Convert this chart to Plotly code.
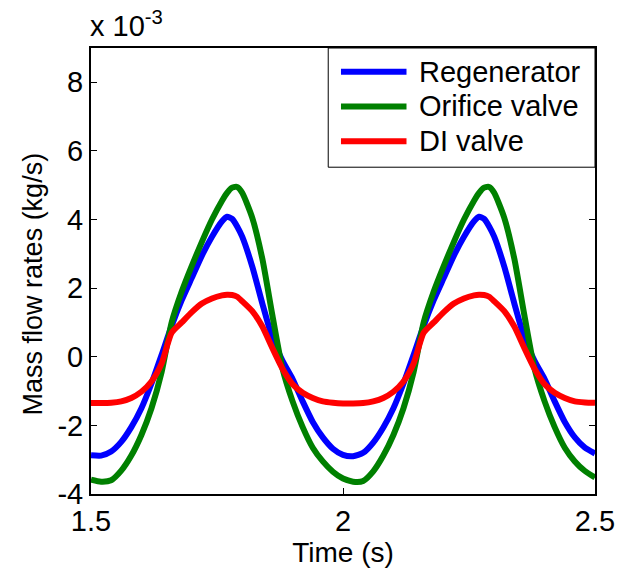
import plotly.graph_objects as go

# Time samples (s)
time_s = [1.50, 1.52, 1.54, 1.56, 1.58, 1.60, 1.62, 1.64, 1.66, 1.68, 1.70, 1.72, 1.74, 1.76, 1.77, 1.78, 1.79,
          1.80, 1.82, 1.84, 1.86, 1.88, 1.90, 1.92, 1.94, 1.96, 1.98,
          2.00, 2.02, 2.04, 2.06, 2.08, 2.10, 2.12, 2.14, 2.16, 2.18, 2.20, 2.22, 2.24, 2.26, 2.27, 2.28, 2.29,
          2.30, 2.32, 2.34, 2.36, 2.38, 2.40, 2.42, 2.44, 2.46, 2.48, 2.50]

# Mass flow rates, in units of 1e-3 kg/s
regenerator = [-2.87, -2.88, -2.76, -2.48, -2.05, -1.50, -0.78, 0.05, 0.90, 1.65, 2.30, 2.95, 3.50, 3.95, 4.08, 4.02, 3.80,
               3.50, 2.63, 1.55, 0.55, -0.12, -0.65, -1.30, -1.90, -2.35, -2.68,
               -2.86, -2.90, -2.80, -2.50, -2.06, -1.50, -0.78, 0.05, 0.90, 1.65, 2.30, 2.95, 3.50, 3.95, 4.08, 4.02, 3.80,
               3.50, 2.63, 1.55, 0.55, -0.12, -0.65, -1.30, -1.90, -2.35, -2.65, -2.82]
orifice_valve = [-3.58, -3.64, -3.60, -3.32, -2.88, -2.28, -1.50, -0.45, 1.00, 1.90, 2.65, 3.35, 4.00, 4.55, 4.78, 4.93, 4.95,
                 4.78, 4.05, 2.85, 1.20, -0.35, -1.30, -2.05, -2.65, -3.05, -3.35,
                 -3.55, -3.64, -3.62, -3.34, -2.88, -2.28, -1.50, -0.45, 1.00, 1.90, 2.65, 3.35, 4.00, 4.55, 4.78, 4.93, 4.95,
                 4.78, 4.05, 2.85, 1.20, -0.35, -1.30, -2.05, -2.65, -3.05, -3.33, -3.52]
di_valve = [-1.35, -1.35, -1.34, -1.30, -1.20, -1.02, -0.72, -0.20, 0.70, 1.00, 1.30, 1.55, 1.70, 1.79, 1.81, 1.80, 1.75,
            1.62, 1.33, 0.88, 0.25, -0.35, -0.80, -1.05, -1.20, -1.30, -1.34,
            -1.36, -1.36, -1.35, -1.30, -1.20, -1.02, -0.72, -0.20, 0.70, 1.00, 1.30, 1.55, 1.70, 1.79, 1.81, 1.80, 1.75,
            1.62, 1.33, 0.88, 0.25, -0.35, -0.80, -1.05, -1.20, -1.30, -1.33, -1.34]

series_names = ["Regenerator", "Orifice valve", "DI valve"]
series_colors = ["#0000FF", "#008000", "#FF0000"]
series_values = [regenerator, orifice_valve, di_valve]

x_ticks = [1.5, 2, 2.5]
x_tick_labels = ["1.5", "2", "2.5"]
y_ticks = [-4, -2, 0, 2, 4, 6, 8]
y_tick_labels = ["-4", "-2", "0", "2", "4", "6", "8"]

FONT = "Liberation Sans, Arial, sans-serif"

fig = go.Figure()
for name, color, vals in zip(series_names, series_colors, series_values):
    fig.add_trace(go.Scatter(x=time_s, y=vals, mode="lines", name=name,
                             line=dict(color=color, width=6, shape="spline", smoothing=0.6),
                             showlegend=False))

fig.update_layout(
    width=627, height=568,
    margin=dict(l=91, r=24, t=48, b=71),
    paper_bgcolor="white", plot_bgcolor="white",
    font=dict(family=FONT, size=29, color="black"),
    xaxis=dict(range=[1.5, 2.5], tickvals=x_ticks, ticktext=x_tick_labels,
               showline=True, linecolor="black", linewidth=2, mirror="ticks",
               ticks="inside", ticklen=6, tickwidth=1, tickcolor="black",
               showgrid=False, zeroline=False,
               title=dict(text="Time (s)", font=dict(size=28), standoff=0),
               tickfont=dict(size=29)),
    yaxis=dict(range=[-4, 9], tickvals=y_ticks, ticktext=y_tick_labels,
               showline=True, linecolor="black", linewidth=2, mirror="ticks",
               ticks="inside", ticklen=6, tickwidth=1, tickcolor="black",
               showgrid=False, zeroline=False,
               tickfont=dict(size=29)),
)

# y-axis title
fig.add_annotation(xref="paper", yref="paper", x=-0.115, y=0.47, xanchor="center", yanchor="middle",
                   text="Mass flow rates (kg/s)", textangle=-90, showarrow=False,
                   font=dict(size=27, family=FONT))

# exponent label
fig.add_annotation(xref="paper", yref="paper", x=0, y=1, xanchor="left", yanchor="bottom",
                   yshift=4, xshift=-3, text="x 10<sup>-3</sup>", showarrow=False,
                   font=dict(size=29, family=FONT))

# Legend (MATLAB style box)
lx0, lx1, ly0, ly1 = 0.4707, 1.0, 0.7327, 1.0
fig.add_shape(type="rect", xref="paper", yref="paper", x0=lx0, x1=lx1, y0=ly0, y1=ly1,
              line=dict(color="black", width=1), fillcolor="white", layer="above")
row_y = [0.947, 0.869, 0.791]
for name, color, ry in zip(series_names, series_colors, row_y):
    fig.add_shape(type="line", xref="paper", yref="paper", x0=0.496, x1=0.626, y0=ry, y1=ry,
                  line=dict(color=color, width=6), layer="above")
    fig.add_annotation(xref="paper", yref="paper", x=0.646, y=ry, xanchor="left", yanchor="middle",
                       text=name, showarrow=False, font=dict(size=29, family=FONT))

fig.write_html("out.html")
